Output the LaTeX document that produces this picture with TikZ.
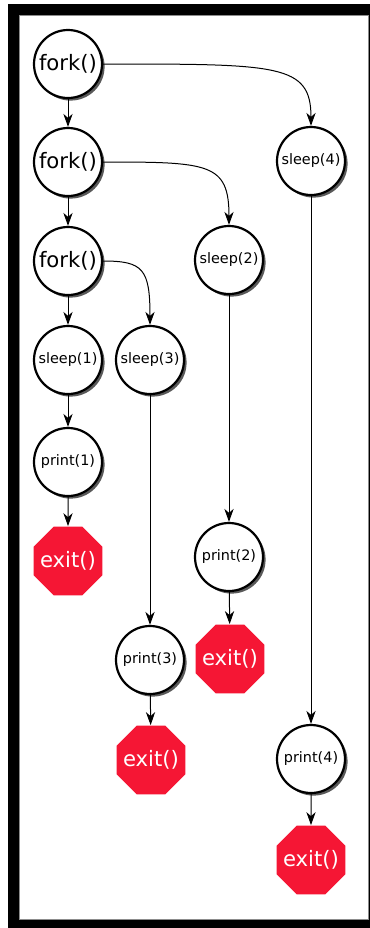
\documentclass[tikz,border=0pt]{standalone}
\usepackage{fontspec}
\setmainfont{DejaVu Sans}
\usetikzlibrary{shapes.geometric,shadows,arrows.meta}
\definecolor{stopred}{RGB}{245,22,52}

\begin{document}
\begin{tikzpicture}[x=0.5pt,y=-0.5pt,
    bigtext/.style={font=\fontsize{10.6}{12}\selectfont},
    smalltext/.style={font=\fontsize{7.2}{9}\selectfont},
    proc/.style={circle,draw,line width=1.1pt,fill=white,minimum size=34pt,inner sep=0pt,
      drop shadow={shadow xshift=1.3pt,shadow yshift=-1.3pt,fill=black!65,opacity=1}},
    exitbox/.style={regular polygon,regular polygon sides=8,fill=stopred,text=white,
      minimum size=37.3pt,inner sep=-8pt,bigtext},
    arr/.style={-{Stealth[length=6.5pt,width=4.6pt,inset=2pt]},line width=0.5pt}]

  % frame
  \fill[white] (0,0) rectangle (370,928);
  \fill[black] (8,4) rectangle (370,928);
  \filldraw[fill=white,draw=black!45,line width=0.5pt] (19,15) rectangle (368,919);

  \begin{scope}[every node/.style={proc}]
    \node[bigtext]   (f1) at (68,64)   {fork()};
    \node[bigtext]   (f2) at (68,162)  {fork()};
    \node[bigtext]   (f3) at (68,261)  {fork()};
    \node[smalltext] (s1) at (68,360)  {sleep(1)};
    \node[smalltext] (p1) at (68,462)  {print(1)};
    \node[smalltext] (s3) at (150,360) {sleep(3)};
    \node[smalltext] (p3) at (150,660) {print(3)};
    \node[smalltext] (s2) at (229,260) {sleep(2)};
    \node[smalltext] (p2) at (229,557) {print(2)};
    \node[smalltext] (s4) at (311,161) {sleep(4)};
    \node[smalltext] (p4) at (311,759) {print(4)};
  \end{scope}

  \begin{scope}[every node/.style={exitbox}]
    \node (e1) at (68,561)  {exit()};
    \node (e3) at (151,760) {exit()};
    \node (e2) at (230,659) {exit()};
    \node (e4) at (311,860) {exit()};
  \end{scope}

  \begin{scope}[every path/.style={arr}]
    \draw (f1) -- (f2);
    \draw (f2) -- (f3);
    \draw (f3) -- (s1);
    \draw (s1) -- (p1);
    \draw (p1) -- (e1);
    \draw (s3) -- (p3);
    \draw (p3) -- (e3);
    \draw (s2) -- (p2);
    \draw (p2) -- (e2);
    \draw (s4) -- (p4);
    \draw (p4) -- (e4);
    \draw (f1) to[out=0,in=90,out distance=88pt,in distance=31pt] (s4);
    \draw (f2) to[out=0,in=90,out distance=53pt,in distance=31pt] (s2);
    \draw (f3) to[out=0,in=90,out distance=20pt,in distance=28pt] (s3);
  \end{scope}

\end{tikzpicture}
\end{document}
